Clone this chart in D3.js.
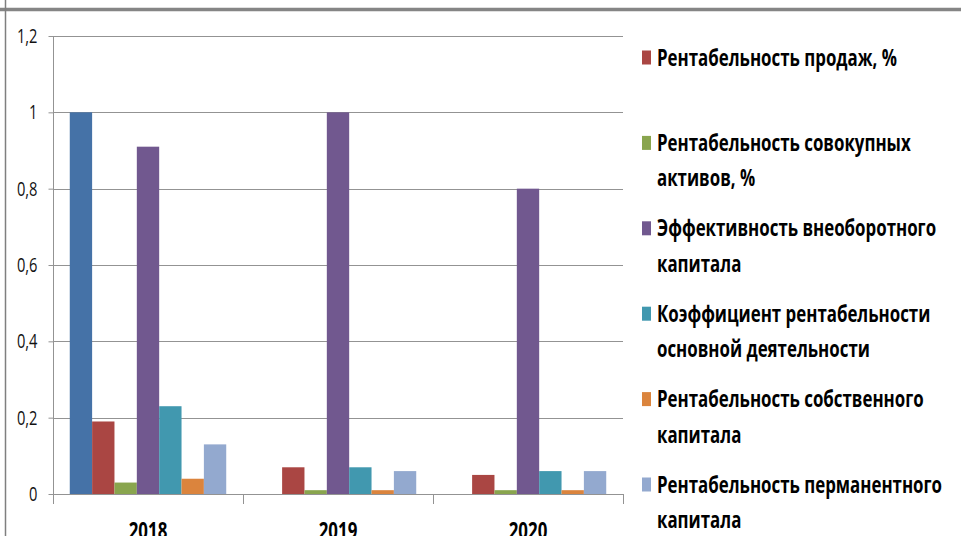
<!DOCTYPE html>
<html>
<head>
<meta charset="utf-8">
<script src="https://cdn.jsdelivr.net/npm/d3@7"></script>
<style>
  html, body { margin: 0; padding: 0; background: #fff; }
  svg { display: block; font-family: "Open Sans", sans-serif; }
</style>
</head>
<body>
<svg width="961" height="536"></svg>
<script>
"use strict";

// data
const years = ["2018", "2019", "2020"];
const seriesNames = [
    "Рентабельность активов, %", // first legend entry is scrolled out of view in the picture
    "Рентабельность продаж, %",
    "Рентабельность совокупных активов, %",
    "Эффективность внеоборотного капитала",
    "Коэффициент рентабельности основной деятельности",
    "Рентабельность собственного капитала",
    "Рентабельность перманентного капитала"
];
// legend lines as they wrap in the picture
const legendLines = [
    ["Рентабельность активов, %"],
    ["Рентабельность продаж, %"],
    ["Рентабельность совокупных", "активов, %"],
    ["Эффективность внеоборотного", "капитала"],
    ["Коэффициент рентабельности", "основной деятельности"],
    ["Рентабельность собственного", "капитала"],
    ["Рентабельность перманентного", "капитала"]
];
// values per series, one per year
const values = [
    [1.00, 0.00, 0.00],
    [0.19, 0.07, 0.05],
    [0.03, 0.01, 0.01],
    [0.91, 1.00, 0.80],
    [0.23, 0.07, 0.06],
    [0.04, 0.01, 0.01],
    [0.13, 0.06, 0.06]
];
const yTicks = [0, 0.2, 0.4, 0.6, 0.8, 1, 1.2];
const colors = ["#4572A7", "#AA4643", "#89A54E", "#71588F", "#4198AF", "#DB843D", "#93A9CF"];

const chart = d3.select("svg");
const plot = { left: 53, right: 623, top: 36, bottom: 494 },
      legendX = 642,
      legendTextX = 657,
      legendTop = 65.5,
      legendStep = 85.4,
      legendLineH = 35.5,
      gridColor = "#939393";

// frame pieces around the chart
chart.append("line")
    .attr("x1", 0).attr("x2", 961).attr("y1", 9.5).attr("y2", 9.5)
    .attr("stroke", "#858585").attr("stroke-width", 3.5);
chart.append("line")
    .attr("x1", 5.5).attr("x2", 5.5).attr("y1", 0).attr("y2", 536)
    .attr("stroke", "#7f7f7f").attr("stroke-width", 1.5);

// scales
let scaleY = d3.scaleLinear().domain([0, 1.2]).range([plot.bottom, plot.top]);
let scaleX0 = d3.scaleBand().domain(years).range([plot.left, plot.right]);
let scaleX1 = d3.scaleBand().domain(d3.range(values.length))
    .range([0, scaleX0.bandwidth()]).paddingInner(0).paddingOuter(0.75);

// squeeze factor so the text looks as narrow as in the picture
chart.append("text").attr("class", "probe")
    .attr("font-size", 23).attr("font-weight", "bold")
    .text(legendLines[1][0]);
const squeeze = 240 / chart.select("text.probe").node().getComputedTextLength();
chart.select("text.probe").remove();

// grid lines
chart.append("g")
    .attr("class", "grid")
    .selectAll("line")
    .data(yTicks.filter(d => d > 0))
    .enter()
    .append("line")
    .attr("x1", plot.left).attr("x2", plot.right)
    .attr("y1", d => Math.round(scaleY(d)) + 0.5)
    .attr("y2", d => Math.round(scaleY(d)) + 0.5)
    .attr("stroke", gridColor);

// bars
chart.append("g")
    .attr("class", "bars")
    .selectAll("g")
    .data(values)
    .enter()
    .append("g")
    .attr("fill", (_, i) => colors[i])
    .each(function(row, i) {
        d3.select(this)
        .selectAll("rect")
        .data(row)
        .enter()
        .append("rect")
        .attr("x", (_, j) => scaleX0(years[j]) + scaleX1(i))
        .attr("width", scaleX1.bandwidth())
        .attr("y", d => scaleY(d))
        .attr("height", d => scaleY(0) - scaleY(d));
    });

// y axis
let yAxis = chart.append("g")
    .attr("class", "y_axis")
    .attr("transform", `translate(${plot.left + 0.5}, 0)`)
    .call(d3.axisLeft(scaleY)
        .tickValues(yTicks)
        .tickSize(5)
        .tickPadding(11)
        .tickFormat(d => String(+d.toFixed(1)).replace(".", ",")));
yAxis.select(".domain").attr("stroke", gridColor).attr("d", `M0,${plot.top}V${plot.bottom + 10}`);
yAxis.selectAll(".tick line").attr("stroke", gridColor);
yAxis.selectAll(".tick text")
    .attr("font-size", 20)
    .attr("font-family", "Open Sans")
    .attr("fill", "#111")
    .each(function() {
        let t = d3.select(this);
        let x = +t.attr("x");
        t.attr("x", null).attr("transform", `translate(${x}, 0) scale(${squeeze}, 1)`);
    });

// x axis
let xAxis = chart.append("g")
    .attr("class", "x_axis")
    .attr("transform", `translate(0, ${plot.bottom + 0.5})`)
    .call(d3.axisBottom(scaleX0).tickSize(0).tickPadding(0));
xAxis.select(".domain").attr("stroke", gridColor).attr("d", `M${plot.left},0H${plot.right}`);
xAxis.selectAll(".tick text")
    .attr("font-size", 23)
    .attr("font-weight", "bold")
    .attr("font-family", "Open Sans")
    .attr("fill", "#000")
    .attr("dy", null)
    .attr("y", null)
    .attr("transform", `translate(0, 44) scale(${squeeze}, 1)`);

// group separators below the axis
chart.append("g")
    .attr("class", "x_ticks")
    .selectAll("line")
    .data(years.slice(1).map(y => scaleX0(y)).concat([plot.right]))
    .enter()
    .append("line")
    .attr("x1", d => Math.round(d) + 0.5).attr("x2", d => Math.round(d) + 0.5)
    .attr("y1", plot.bottom).attr("y2", plot.bottom + 10)
    .attr("stroke", gridColor);

// legend (first entry lies above the visible area in the picture)
chart.append("g")
    .attr("class", "legend")
    .selectAll("g")
    .data(d3.range(1, seriesNames.length))
    .enter()
    .append("g")
    .attr("transform", (d, i) => `translate(0, ${legendTop + i * legendStep})`)
    .attr("data-content", d => seriesNames[d])
    .each(function(d) {
        let g = d3.select(this);
        g.append("rect")
        .attr("x", legendX).attr("y", -15)
        .attr("width", 9).attr("height", 14)
        .attr("fill", colors[d]);
        g.selectAll("text")
        .data(legendLines[d])
        .enter()
        .append("text")
        .attr("transform", (_, k) => `translate(${legendTextX}, ${k * legendLineH}) scale(${squeeze}, 1)`)
        .attr("font-size", 23)
        .attr("font-weight", "bold")
        .attr("fill", "#000")
        .text(t => t);
    });
</script>
</body>
</html>
